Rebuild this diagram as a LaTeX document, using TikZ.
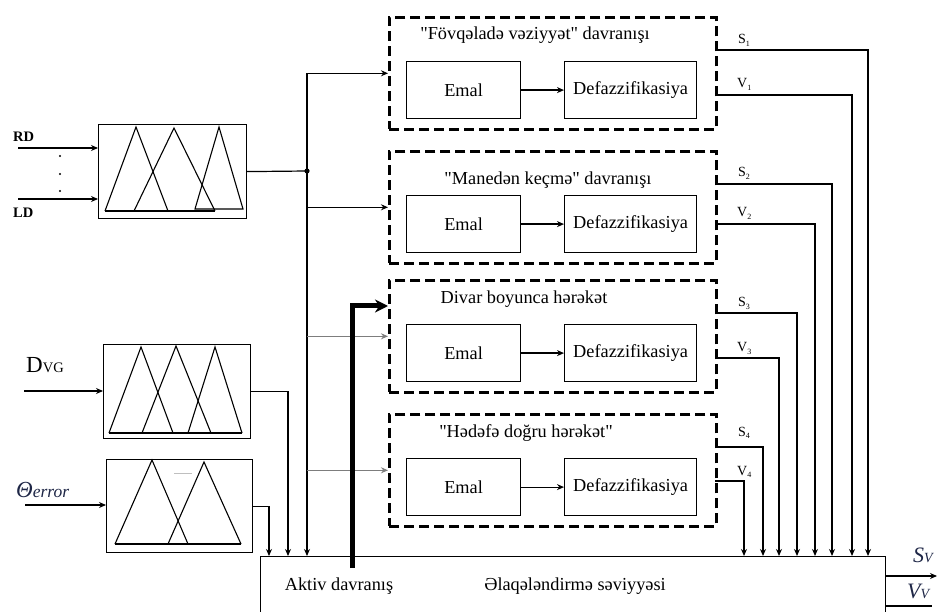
\documentclass[tikz,border=0pt]{standalone}
\usepackage{fontspec}
\setmainfont{Liberation Serif}[Ligatures=TeXOff]
\usetikzlibrary{arrows.meta,calc}

\definecolor{inkblue}{RGB}{30,38,70}
\definecolor{feedgray}{RGB}{125,125,125}

\tikzset{
  box/.style={draw, line width=1.2pt, inner sep=0pt},
  dbox/.style={draw, line width=2.6pt, dash pattern=on 10pt off 5pt, inner sep=0pt},
  wire/.style={line width=1.2pt},
  arr/.style={wire, -{Stealth[length=7pt,width=6pt]}},
  grayarr/.style={arr, draw=feedgray},
  boldarr/.style={line width=5pt, -{Stealth[length=13pt,width=13pt]}},
  txt/.style={inner sep=0pt, font=\fontsize{18.3}{20}\selectfont},
  sig/.style={inner sep=0pt, anchor=base west, font=\fontsize{14}{14}\selectfont},
  mf/.style={line width=1.1pt, line join=miter},
}

% block with an inner processing chain
\newcommand\behblock[4]{% name, top edge, title position, title text
  \node[dbox, anchor=north west, minimum width=327pt, minimum height=112pt] (#1) at (388,#2) {};
  \node[txt] (#1t) at #3 {#4};
  \node[box, anchor=north west, minimum width=114pt, minimum height=57pt, txt] (#1e) at (406,#2+45) {Emal};
  \node[box, anchor=north west, minimum width=132pt, minimum height=57pt, txt] (#1d) at (564,#2+45) {Defazzifikasiya};
  \draw[arr] (#1e) -- (#1d);
}

\begin{document}
\begin{tikzpicture}[x=1pt,y=-1pt]
\useasboundingbox (0,0) rectangle (940,612);
\clip (0,0) rectangle (940,612);

% ---------- fuzzification blocks ----------
\node[box, anchor=north west, minimum width=148pt, minimum height=94pt] (mf1) at (98,124) {};
\draw[mf] (105,211) -- (136,127) -- (168,211);
\draw[mf] (134,211) -- (174,128) -- (215,211);
\draw[mf] (195,209) -- (219,127) -- (243,209) -- cycle;
\draw[mf] (105,211) -- (215,211);

\node[box, anchor=north west, minimum width=147pt, minimum height=94pt] (mf2) at (103,344) {};
\draw[mf] (109,433) -- (141,347) -- (173,433);
\draw[mf] (142,433) -- (176,346) -- (211,433);
\draw[mf] (188,433) -- (215,347) -- (242,433);
\draw[mf] (109,433) -- (242,433);
\draw[line width=2pt] (142,433) -- (173,433);

\node[box, anchor=north west, minimum width=146pt, minimum height=93pt] (mf3) at (106,459) {};
\draw[mf] (115,544) -- (152,460) -- (188,544);
\draw[mf] (168,544) -- (204,462) -- (241,544);
\draw[mf] (115,544) -- (241,544);
\draw[line width=2pt] (168,544) -- (188,544);
\draw[line width=0.8pt, black!25] (174,473) -- (192,473);

% ---------- inputs ----------
\node[inner sep=0pt, anchor=west, font=\bfseries\fontsize{14.5}{15}\selectfont] (rdl) at (13,137) {RD};
\node[inner sep=0pt, anchor=west, font=\bfseries\fontsize{14.5}{15}\selectfont] (ldl) at (13,213) {LD};
\coordinate (rd) at (18,148);
\coordinate (ld) at (18,199);
\draw[arr] (rd) -- (mf1.west |- rd);
\draw[arr] (ld) -- (mf1.west |- ld);
\foreach \yy in {156,174,191} \fill (60,\yy) circle (1.1pt);

\node[inner sep=0pt, anchor=base west] (dvgl) at (26,373)
  {\fontsize{23}{23}\selectfont D\fontsize{14.5}{15}\selectfont VG};
\coordinate (dvg) at (24,391);
\draw[arr] (dvg) -- (mf2.west |- dvg);

\node[inner sep=0pt, anchor=base west, text=inkblue] (thl) at (16,497)
  {\fontsize{23}{23}\selectfont\itshape Θ\fontsize{17.5}{18}\selectfont error};
\coordinate (th) at (25,505);
\draw[arr] (th) -- (mf3.west |- th);

% ---------- behaviour blocks ----------
\behblock{A}{16}{(535,35)}{"Fövqəladə vəziyyət" davranışı}
\behblock{B}{150}{(548,180)}{"Manedən keçmə" davranışı}
\behblock{C}{279}{(524,299)}{Divar boyunca hərəkət}
\behblock{D}{413}{(526,433)}{"Hədəfə doğru hərəkət"}

% ---------- coordination level ----------
\node[box, anchor=north west, minimum width=625pt, minimum height=100pt] (coord) at (260,556) {};
\node[txt] (aktiv) at (339,586) {Aktiv davranış};
\node[txt] (level) at (575,586) {Əlaqələndirmə səviyyəsi};

% drop points on the coordination block
\coordinate (dth)  at (269,556);
\coordinate (ddvg) at (288,556);
\coordinate (dbus) at (307,556);
\coordinate (d1) at (868,556);
\coordinate (d2) at (852,556);
\coordinate (d3) at (832,556);
\coordinate (d4) at (815,556);
\coordinate (d5) at (797,556);
\coordinate (d6) at (779,556);
\coordinate (d7) at (763,556);
\coordinate (d8) at (744,556);

% ---------- distribution bus ----------
\coordinate (j) at (307,171);
\draw[wire] (mf1.east) -- (j);
\fill (j) circle (2.6pt);
\draw[arr] (j |- A.west) -- (dbus);
\draw[arr] (j |- A.west) -- (A.west);
\draw[arr] (j |- B.west) -- (B.west);
\draw[grayarr] (j |- C.west) -- (C.west);
\draw[grayarr] (j |- D.west) -- (D.west);

\draw[arr] (mf2.east) -| (ddvg);
\draw[arr] (mf3.east) -| (dth);

% active behaviour selection
\coordinate (act) at (352,568);
\coordinate (cin) at (388,306);
\draw[boldarr] (act) |- (cin);

% ---------- behaviour outputs ----------
\coordinate (s1) at (715,50);
\coordinate (v1) at (715,95);
\coordinate (s2) at (715,184);
\coordinate (v2) at (715,224);
\coordinate (s3) at (715,313);
\coordinate (v3) at (715,358);
\coordinate (s4) at (715,447);
\coordinate (v4) at (715,481);
\draw[arr] (s1) -| (d1);
\draw[arr] (v1) -| (d2);
\draw[arr] (s2) -| (d3);
\draw[arr] (v2) -| (d4);
\draw[arr] (s3) -| (d5);
\draw[arr] (v3) -| (d6);
\draw[arr] (s4) -| (d7);
\draw[arr] (v4) -| (d8);

\node[sig] (s1l) at (738,44)  {S\textsubscript{\fontsize{8}{8}\selectfont 1}};
\node[sig] (v1l) at (737,88)  {V\textsubscript{\fontsize{8}{8}\selectfont 1}};
\node[sig] (s2l) at (738,177) {S\textsubscript{\fontsize{8}{8}\selectfont 2}};
\node[sig] (v2l) at (737,217) {V\textsubscript{\fontsize{8}{8}\selectfont 2}};
\node[sig] (s3l) at (738,307) {S\textsubscript{\fontsize{8}{8}\selectfont 3}};
\node[sig] (v3l) at (737,352) {V\textsubscript{\fontsize{8}{8}\selectfont 3}};
\node[sig] (s4l) at (738,436) {S\textsubscript{\fontsize{8}{8}\selectfont 4}};
\node[sig] (v4l) at (737,475) {V\textsubscript{\fontsize{8}{8}\selectfont 4}};

% ---------- system outputs ----------
\coordinate (sv) at (937,576);
\coordinate (vv) at (932,606);
\draw[arr] (coord.east |- sv) -- (sv);
\draw[wire] (coord.east |- vv) -- (vv);
\node[inner sep=0pt, anchor=base west, text=inkblue] (svl) at (913,562)
  {\fontsize{22}{22}\selectfont\itshape S\fontsize{14}{14}\selectfont V};
\node[inner sep=0pt, anchor=base west, text=inkblue] (vvl) at (907,598)
  {\fontsize{22}{22}\selectfont\itshape V\fontsize{14}{14}\selectfont V};

\end{tikzpicture}
\end{document}
